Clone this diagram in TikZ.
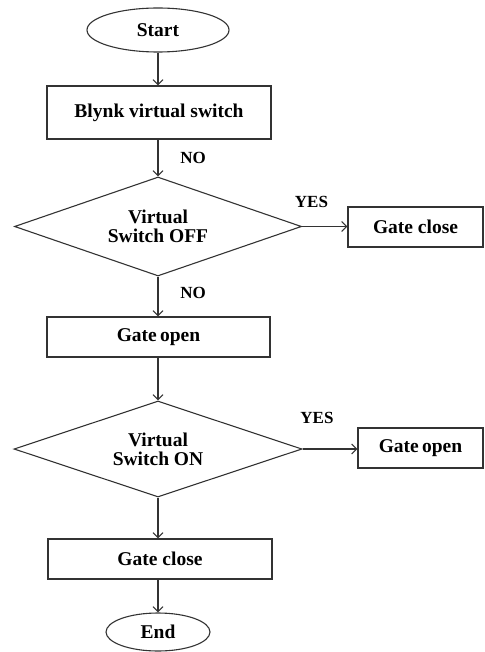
\documentclass[tikz,border=0pt]{standalone}
\usepackage{fontspec}
\setmainfont{Liberation Serif}
\usetikzlibrary{shapes.geometric,arrows.meta}
\begin{document}
\begin{tikzpicture}[x=1pt,y=-1pt,
  line width=1.1pt,
  every node/.style={font=\bfseries\fontsize{19.5}{20}\selectfont, text=black},
  procbox/.style={draw=black!80, rectangle, inner sep=0pt, align=center},
  termin/.style={draw=black!80, ellipse, inner sep=0pt},
  decide/.style={draw=black!80, diamond, inner sep=0pt, shape aspect=2.9, align=center},
  lbl/.style={font=\bfseries\fontsize{17}{18}\selectfont, inner sep=0pt},
  flow/.style={draw=black!80, -{Straight Barb[length=5pt,width=10pt,line width=1.1pt]}}
]
\useasboundingbox (0,0) rectangle (484,652);

\node[termin, minimum width=142, minimum height=44] (start) at (158,30) {Start};
\node[procbox, minimum width=224, minimum height=53] (blynk) at (159,112.5) {Blynk virtual switch};
\node[decide, minimum width=287, minimum height=99] (d1) at (158,226.5) {Virtual\\[-1pt]Switch OFF};
\node[procbox, minimum width=135, minimum height=40] (gc1) at (415.5,227) {Gate close};
\node[procbox, minimum width=223, minimum height=40] (go1) at (158.5,337) {Gate\,open};
\node[decide, minimum width=288, minimum height=96] (d2) at (158,449) {Virtual\\[-1pt]Switch ON};
\node[procbox, minimum width=125, minimum height=40] (go2) at (420.5,448) {Gate\,open};
\node[procbox, minimum width=224, minimum height=40] (gc2) at (160,559) {Gate close};
\node[termin, minimum width=104, minimum height=38] (end) at (158,632) {End};

\node[lbl] (no1) at (193,158) {NO};
\node[lbl] (yes1) at (311.5,202) {YES};
\node[lbl] (no2) at (193,293) {NO};
\node[lbl] (yes2) at (317,418) {YES};

\draw[flow] (start.south) -- (start.south |- blynk.north);
\draw[flow] (d1.north |- blynk.south) -- (d1.north);
\draw[flow] (d1.east) -- (d1.east -| gc1.west);
\draw[flow] (d1.south) -- (d1.south |- go1.north);
\draw[flow] (d2.north |- go1.south) -- (d2.north);
\draw[flow] (d2.east) -- (d2.east -| go2.west);
\draw[flow] (d2.south) -- (d2.south |- gc2.north);
\draw[flow] (end.north |- gc2.south) -- (end.north);
\end{tikzpicture}
\end{document}
